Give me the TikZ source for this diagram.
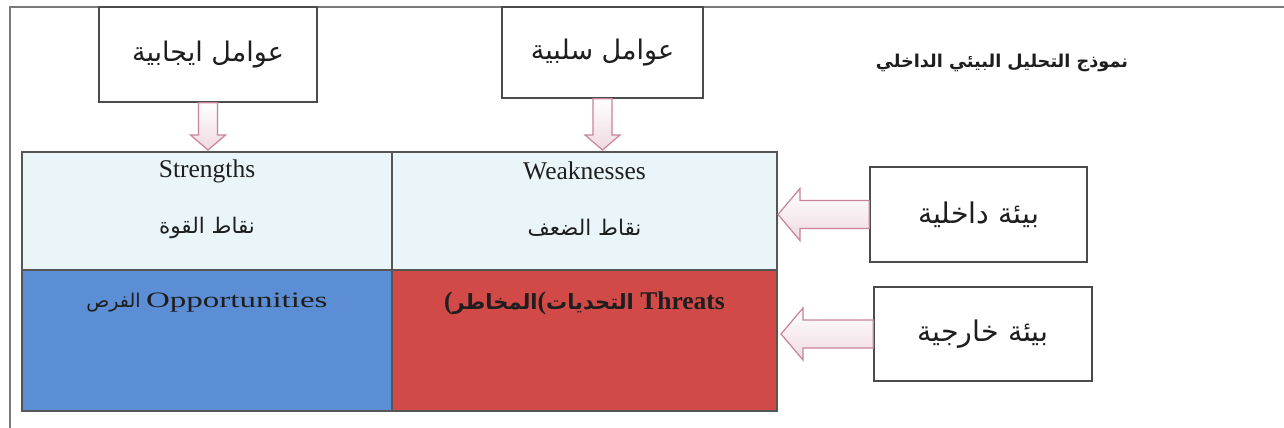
\documentclass[tikz,border=0pt]{standalone}
\usepackage{fontspec}
\usepackage{graphicx}
\setmainfont{Liberation Serif}
\newfontfamily\arabicfont[Script=Arabic]{DejaVu Sans}
\TeXXeTstate=1
\usetikzlibrary{positioning,calc}
\definecolor{CellCyan}{HTML}{EAF5F9}
\definecolor{CellBlue}{HTML}{5B8ED4}
\definecolor{CellRed}{HTML}{D24A48}
\definecolor{ArrowRose}{HTML}{C98399}
\definecolor{FrameGray}{HTML}{7A7A7A}
\definecolor{InkDark}{HTML}{1E1E1E}
\newcommand{\artext}[1]{{\arabicfont\beginR #1\endR}}

\begin{document}
\begin{tikzpicture}[
  x=1pt,y=-1pt,
  factor/.style={draw=InkDark!80,line width=1.4pt,fill=white,inner sep=0pt,
    font=\arabicfont\fontsize{27}{31}\selectfont,text=InkDark},
  cell/.style={draw=InkDark!75,line width=1.2pt,inner sep=0pt,outer sep=0pt,anchor=north west},
  en/.style={font=\fontsize{25.5}{29}\selectfont,text=InkDark},
  arlabel/.style={font=\arabicfont\fontsize{21.5}{25}\selectfont,text=InkDark},
  hollow/.style n args={3}{
    draw=ArrowRose,line width=1.2pt,top color=white,bottom color=ArrowRose!30,
    to path={let \p1=(\tikztostart), \p2=(\tikztotarget),
      \n1={atan2(\y2-\y1,\x2-\x1)}, \n2={veclen(\x2-\x1,\y2-\y1)} in
      {[shift={(\p1)},rotate=\n1]
        -- (0pt,#1) -- (\n2-#3,#1) -- (\n2-#3,#2) -- (\n2,0pt)
        -- (\n2-#3,-#2) -- (\n2-#3,-#1) -- (0pt,-#1) -- cycle}}}
]
  \fill[white] (0,0) rectangle (1284,428);
  \useasboundingbox (0,0) rectangle (1284,428);
  \draw[FrameGray,line width=2pt] (10,428) -- (10,7) -- (1284,7);

  % title and factor boxes
  \node[font=\arabicfont\bfseries\fontsize{17.7}{21}\selectfont,text=InkDark] (title) at (1002,63)
    {\beginR نموذج التحليل البيئي الداخلي\endR};
  \node[factor,minimum width=218,minimum height=95] (pos) at (208,54.5) {\beginR عوامل ايجابية\endR};
  \node[factor,minimum width=201,minimum height=91] (neg) at (602.5,52.5) {\beginR عوامل سلبية\endR};
  \node[factor,minimum width=217,minimum height=95,font=\arabicfont\fontsize{28.5}{32}\selectfont]
    (int) at (978.5,214.5) {\beginR بيئة داخلية\endR};
  \node[factor,minimum width=218,minimum height=94,font=\arabicfont\fontsize{28.5}{32}\selectfont]
    (ext) at (983,334) {\beginR بيئة خارجية\endR};

  % SWOT grid
  \node[cell,fill=CellCyan,minimum width=370,minimum height=118] (str) at (22,152) {};
  \node[cell,fill=CellCyan,minimum width=385,minimum height=118,right=0pt of str] (wea) {};
  \node[cell,fill=CellBlue,minimum width=370,minimum height=141,below=0pt of str] (opp) {};
  \node[cell,fill=CellRed,minimum width=385,minimum height=141,below=0pt of wea] (thr) {};

  \node[en] (strEn) at ([yshift=-19pt]str.north) {Strengths};
  \node[arlabel] (strAr) at ([yshift=-76pt]str.north) {\beginR نقاط القوة\endR};
  \node[en] (weaEn) at ([yshift=-19pt]wea.north) {Weaknesses};
  \node[arlabel] (weaAr) at ([yshift=-76pt]wea.north) {\beginR نقاط الضعف\endR};
  \node[en,font=\fontsize{22}{26}\selectfont] (oppTxt) at ([yshift=-33pt]opp.north)
    {\artext{\fontsize{19}{23}\selectfont الفرص} \scalebox{1.5}[1]{Opportunities}};
  \node[en,font=\bfseries\fontsize{25.5}{29}\selectfont] (thrTxt) at ([yshift=-33pt]thr.north)
    {(\artext{\fontsize{21}{25}\selectfont المخاطر}(\artext{\fontsize{21}{25}\selectfont التحديات} Threats};

  % block arrows
  \draw[hollow={9.5pt}{17.5pt}{15pt}] (pos.south) to ($(pos.south |- str.north)+(0,-2)$);
  \draw[hollow={9.5pt}{17.5pt}{15pt}] (neg.south) to ($(neg.south |- wea.north)+(0,-2)$);
  \draw[hollow={14pt}{26pt}{22pt}] (int.west) to ($(int.west -| wea.east)+(1,0)$);
  \draw[hollow={14pt}{26pt}{22pt}] (ext.west) to ($(ext.west -| thr.east)+(4,0)$);
\end{tikzpicture}
\end{document}
